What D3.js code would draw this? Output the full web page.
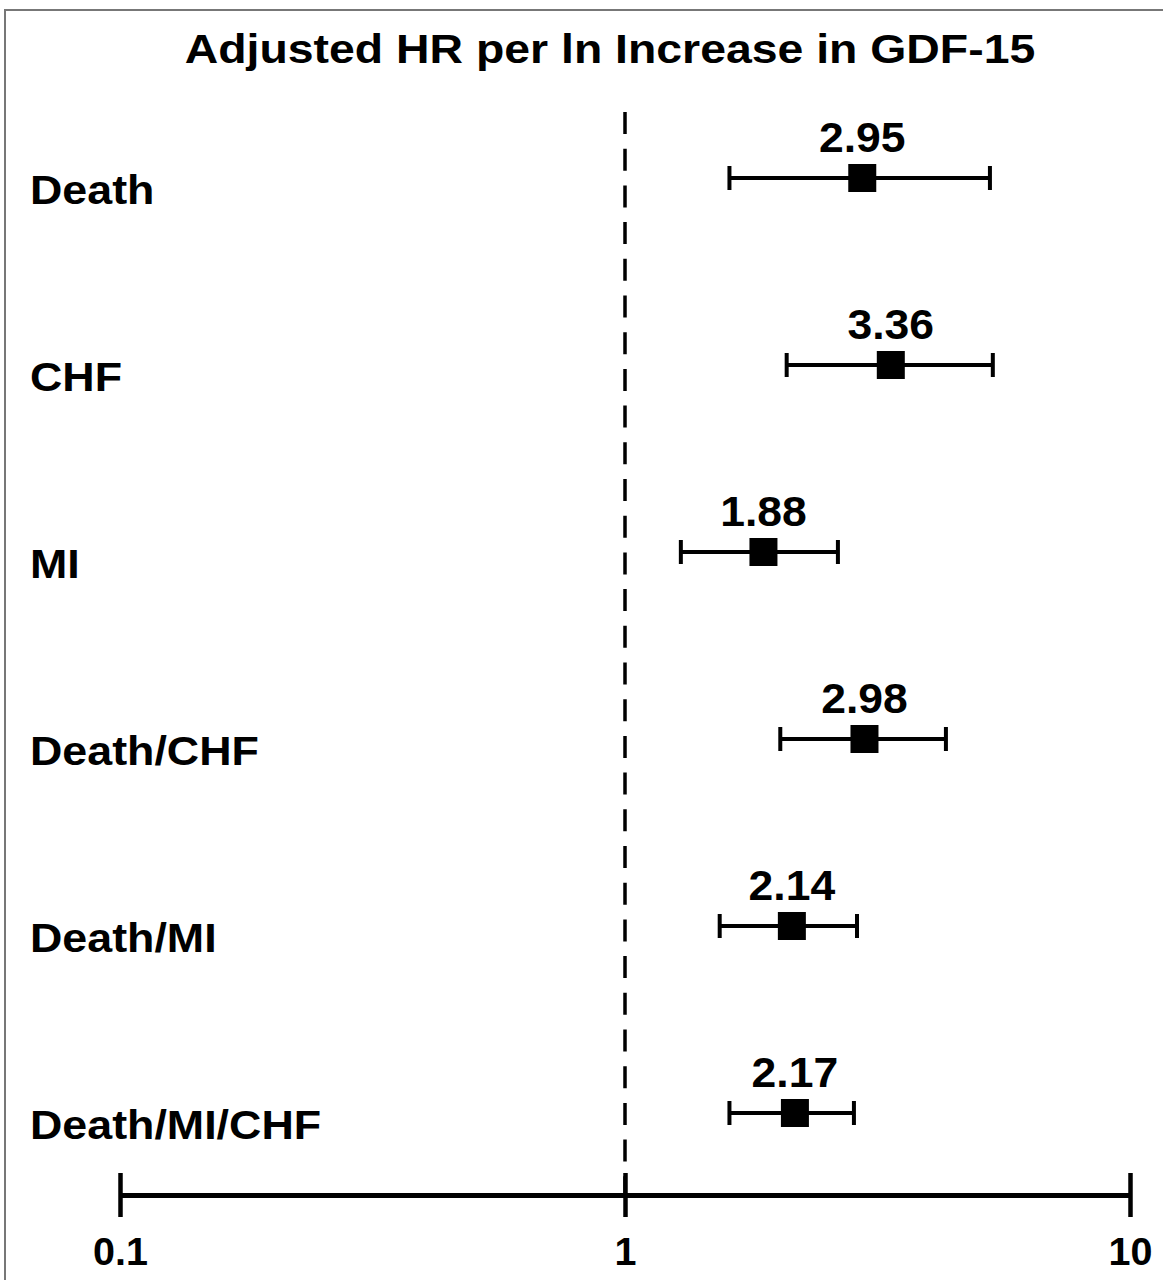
<!DOCTYPE html>
<html>
<head>
<meta charset="utf-8">
<script src="https://cdn.jsdelivr.net/npm/d3@7"></script>
<style>
  body { margin: 0; background: #fff; }
  text { font-family: "Liberation Sans", Arial, Helvetica, sans-serif; font-weight: bold; fill: #000; }
</style>
</head>
<body>
<svg id="chart"></svg>
<script>
// data
const categories = ["Death", "CHF", "MI", "Death/CHF", "Death/MI", "Death/MI/CHF"];
const hr = [2.95, 3.36, 1.88, 2.98, 2.14, 2.17];
const lower = [1.61, 2.09, 1.29, 2.03, 1.54, 1.61];
const upper = [5.28, 5.35, 2.64, 4.32, 2.88, 2.84];
const tickValues = [0.1, 1, 10];
const title = "Adjusted HR per ln Increase in GDF-15";

const width = 1163;
const height = 1280;

const svg = d3.select("#chart")
  .attr("width", width)
  .attr("height", height);

const rows = categories.map((c, i) => ({ name: c, hr: hr[i], lo: lower[i], hi: upper[i] }));

const x = d3.scaleLog().domain([0.1, 10]).range([120, 1130]);
const y = d3.scalePoint().domain(categories).range([178, 1113]);
const axisY = 1195;

// frame
svg.append("rect")
  .attr("x", 5).attr("y", 10)
  .attr("width", width + 20).attr("height", height + 20)
  .attr("fill", "none")
  .attr("stroke", "#777")
  .attr("stroke-width", 2);

// stretched text helper (source image is a bit wide)
function stretchText(sel, sx) {
  sel.attr("transform", function() {
    const tx = +this.getAttribute("data-x"), ty = +this.getAttribute("data-y");
    return `translate(${tx},${ty}) scale(${sx},1)`;
  });
}

// title
svg.append("text")
  .attr("data-x", 610).attr("data-y", 63)
  .attr("text-anchor", "middle")
  .attr("font-size", 40)
  .text(title)
  .call(stretchText, 1.16);

// reference line at HR = 1
svg.append("line")
  .attr("x1", x(1)).attr("x2", x(1))
  .attr("y1", 112).attr("y2", axisY)
  .attr("stroke", "#000")
  .attr("stroke-width", 3.5)
  .attr("stroke-dasharray", "22,14.7");

// axis
const axis = svg.append("g")
  .attr("transform", `translate(0,${axisY})`)
  .call(d3.axisBottom(x).tickValues(tickValues).tickFormat(d => String(d)).tickSizeOuter(0));

axis.select(".domain").attr("stroke", "#000").attr("stroke-width", 5);
axis.selectAll(".tick line")
  .attr("y1", -22).attr("y2", 22)
  .attr("stroke", "#000").attr("stroke-width", 4.5);
axis.selectAll(".tick text")
  .attr("y", null).attr("dy", null)
  .attr("data-x", 0).attr("data-y", 70)
  .attr("font-size", 38)
  .attr("font-family", null)
  .call(stretchText, 1.04);
axis.attr("font-size", null).attr("font-family", null);

// row labels
svg.append("g")
  .selectAll("text")
  .data(rows)
  .join("text")
  .attr("data-x", 30)
  .attr("data-y", d => y(d.name) + 26)
  .attr("font-size", 40)
  .text(d => d.name)
  .call(stretchText, 1.12);

// confidence intervals
const ci = svg.append("g").selectAll("g")
  .data(rows)
  .join("g")
  .attr("transform", d => `translate(0,${y(d.name)})`);

ci.append("line")
  .attr("x1", d => x(d.lo)).attr("x2", d => x(d.hi))
  .attr("stroke", "#000").attr("stroke-width", 4);

ci.selectAll(".cap")
  .data(d => [d.lo, d.hi])
  .join("line")
  .attr("class", "cap")
  .attr("x1", v => x(v)).attr("x2", v => x(v))
  .attr("y1", -12).attr("y2", 12)
  .attr("stroke", "#000").attr("stroke-width", 4);

ci.append("rect")
  .attr("x", d => x(d.hr) - 14)
  .attr("y", -14)
  .attr("width", 28).attr("height", 28)
  .attr("fill", "#000");

ci.append("text")
  .attr("data-x", d => x(d.hr))
  .attr("data-y", -26)
  .attr("text-anchor", "middle")
  .attr("font-size", 42)
  .text(d => d.hr.toFixed(2))
  .call(stretchText, 1.06);
</script>
</body>
</html>
